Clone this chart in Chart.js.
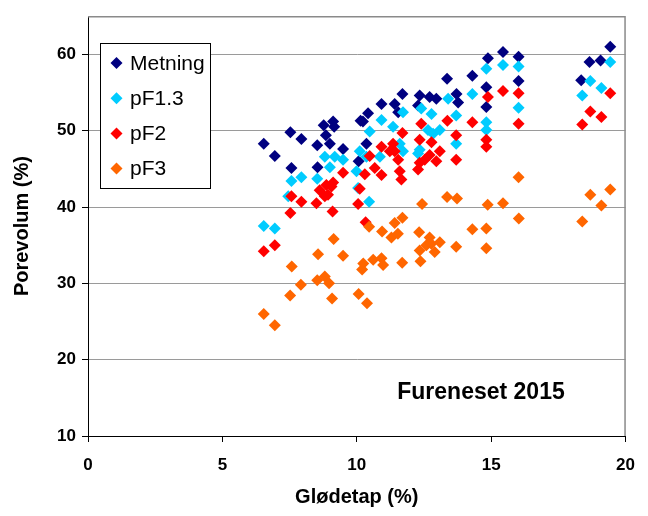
<!DOCTYPE html>
<html>
<head>
<meta charset="utf-8">
<script src="https://cdn.jsdelivr.net/npm/chart.js@4/dist/chart.umd.min.js"></script>
<style>
  html, body { margin: 0; padding: 0; background: #ffffff; }
  canvas { display: block; }
</style>
</head>
<body>
<canvas id="chart" width="648" height="516"></canvas>
<script>
// Loss on ignition (Glødetap, %) against pore volume (%) for four water states
const seriesNames = ['Metning', 'pF1.3', 'pF2', 'pF3'];
const seriesColors = ['#000080', '#00CCFF', '#FF0000', '#FF6600'];

const metningX = [6.54, 6.95, 7.53, 7.57, 7.94, 8.53, 8.54, 8.77, 8.85, 9.0, 9.12, 9.16, 9.49, 10.07, 10.14, 10.23, 10.36, 10.42, 10.92, 11.41, 11.54, 11.7, 12.28, 12.34, 12.71, 12.96, 13.36, 13.71, 13.77, 14.3, 14.82, 14.82, 14.88, 15.44, 16.02, 16.02, 18.35, 18.66, 19.07, 19.43];
const metningY = [48.3, 46.7, 49.8, 45.1, 48.9, 48.1, 45.2, 50.7, 49.4, 48.3, 51.2, 50.5, 47.6, 46.0, 51.3, 51.2, 48.3, 52.3, 53.5, 53.5, 52.4, 54.8, 53.3, 54.6, 54.4, 54.2, 56.8, 54.8, 53.7, 57.2, 55.7, 53.1, 59.5, 60.3, 59.7, 56.5, 56.6, 59.0, 59.2, 61.0];

const pf13X = [6.54, 6.95, 7.45, 7.57, 7.94, 8.53, 8.81, 9.0, 9.18, 9.49, 9.99, 10.05, 10.11, 10.36, 10.46, 10.48, 10.86, 10.92, 11.35, 11.6, 11.72, 11.72, 12.28, 12.34, 12.4, 12.65, 12.78, 12.84, 13.09, 13.4, 13.7, 13.7, 14.3, 14.82, 14.82, 14.82, 15.44, 16.02, 16.02, 18.39, 18.69, 19.1, 19.43];
const pf13Y = [37.5, 37.2, 41.4, 43.4, 43.9, 43.7, 46.6, 45.2, 46.6, 46.2, 44.7, 42.5, 47.3, 46.6, 40.7, 49.9, 46.6, 51.4, 50.5, 48.3, 52.4, 47.3, 47.0, 47.5, 52.9, 50.1, 52.2, 49.6, 50.1, 54.2, 52.0, 48.3, 54.8, 58.1, 51.1, 50.1, 58.6, 58.4, 53.0, 54.6, 56.5, 55.6, 59.0];

const pf2X = [6.54, 6.95, 7.53, 7.57, 7.94, 8.5, 8.62, 8.81, 8.87, 8.93, 9.06, 9.12, 9.1, 9.49, 10.05, 10.11, 10.3, 10.33, 10.48, 10.67, 10.92, 10.92, 11.23, 11.35, 11.41, 11.54, 11.6, 11.66, 11.7, 12.28, 12.34, 12.34, 12.4, 12.53, 12.71, 12.78, 12.96, 13.09, 13.37, 13.7, 13.7, 14.3, 14.82, 14.82, 14.88, 15.44, 16.02, 16.02, 18.39, 18.69, 19.1, 19.43];
const pf2Y = [34.2, 35.0, 39.2, 41.4, 40.7, 40.5, 42.2, 41.4, 42.9, 41.6, 42.7, 43.2, 39.4, 44.5, 40.4, 42.4, 44.3, 38.0, 46.7, 45.1, 44.2, 47.9, 47.3, 48.3, 47.3, 46.2, 44.7, 43.6, 49.7, 44.9, 45.8, 48.8, 50.9, 46.2, 46.8, 48.5, 46.0, 47.3, 51.3, 49.4, 46.2, 51.1, 48.8, 47.9, 54.4, 55.2, 54.9, 50.9, 50.8, 52.5, 51.8, 54.9];

const pf3X = [6.54, 6.95, 7.52, 7.58, 7.92, 8.53, 8.56, 8.81, 8.97, 9.08, 9.14, 9.49, 10.07, 10.38, 10.2, 10.24, 10.46, 10.61, 10.92, 10.94, 10.98, 11.29, 11.41, 11.53, 11.69, 11.7, 12.32, 12.34, 12.37, 12.43, 12.59, 12.71, 12.77, 12.9, 13.09, 13.36, 13.7, 13.73, 14.3, 14.82, 14.82, 14.87, 15.44, 16.02, 16.03, 18.39, 18.69, 19.1, 19.43];
const pf3Y = [26.0, 24.5, 28.4, 32.2, 29.8, 30.4, 33.8, 30.9, 30.0, 28.0, 35.8, 33.6, 28.6, 27.4, 31.8, 32.6, 37.4, 33.1, 33.3, 36.8, 32.4, 36.0, 37.9, 36.5, 32.7, 38.6, 36.7, 34.3, 32.9, 40.4, 35.0, 36.0, 35.2, 34.1, 35.4, 41.3, 34.8, 41.1, 37.1, 37.2, 34.6, 40.3, 40.5, 43.9, 38.5, 38.1, 41.6, 40.2, 42.3];

const xTicks = [0, 5, 10, 15, 20];
const yTicks = [10, 20, 30, 40, 50, 60];
const xTitle = 'Glødetap (%)';
const yTitle = 'Porevolum (%)';
const siteLabel = 'Fureneset 2015';

const FONT = "Arial, 'Liberation Sans', sans-serif";

function toPoints(xs, ys) {
  return xs.map((x, i) => ({ x: x, y: ys[i] }));
}

const seriesData = [
  toPoints(metningX, metningY),
  toPoints(pf13X, pf13Y),
  toPoints(pf2X, pf2Y),
  toPoints(pf3X, pf3Y)
];

const datasets = seriesNames.map((name, i) => ({
  label: name,
  data: seriesData[i],
  backgroundColor: seriesColors[i],
  borderColor: seriesColors[i],
  borderWidth: 0,
  pointStyle: 'rectRot',
  pointRadius: 6,
  // later series are painted over earlier ones
  order: seriesNames.length - 1 - i
}));

// Grey frame on the top and right of the plot area, legend box and site label
const decorations = {
  id: 'decorations',
  afterDatasetsDraw(chart) {
    const { ctx, chartArea: a } = chart;
    ctx.save();
    ctx.strokeStyle = '#8a8a8a';
    ctx.lineWidth = 1.5;
    ctx.setLineDash([]);
    ctx.beginPath();
    ctx.moveTo(a.left, a.top + 0.5);
    ctx.lineTo(a.right - 0.5, a.top + 0.5);
    ctx.lineTo(a.right - 0.5, a.bottom);
    ctx.stroke();

    // legend
    const lx = 100, ly = 43, lw = 110, lh = 145;
    ctx.fillStyle = '#ffffff';
    ctx.fillRect(lx, ly, lw, lh);
    ctx.strokeStyle = '#000000';
    ctx.lineWidth = 1;
    ctx.strokeRect(lx + 0.5, ly + 0.5, lw, lh);
    ctx.font = '21px ' + FONT;
    ctx.textBaseline = 'middle';
    ctx.textAlign = 'left';
    chart.data.datasets.forEach((ds, i) => {
      const cy = 63 + i * 35.2;
      const cx = 116.5;
      const r = 6;
      ctx.fillStyle = ds.backgroundColor;
      ctx.beginPath();
      ctx.moveTo(cx - r, cy);
      ctx.lineTo(cx, cy - r);
      ctx.lineTo(cx + r, cy);
      ctx.lineTo(cx, cy + r);
      ctx.closePath();
      ctx.fill();
      ctx.fillStyle = '#000000';
      ctx.fillText(ds.label, 130, cy + 1);
    });

    ctx.font = 'bold 23px ' + FONT;
    ctx.textAlign = 'center';
    ctx.fillText(siteLabel, 481, 393);
    ctx.restore();
  }
};

new Chart(document.getElementById('chart'), {
  type: 'scatter',
  data: { datasets: datasets },
  options: {
    responsive: false,
    animation: false,
    devicePixelRatio: 1,
    layout: { padding: { top: 12, right: 22, left: 0, bottom: 0 } },
    plugins: { legend: { display: false }, tooltip: { enabled: false } },
    scales: {
      x: {
        type: 'linear',
        min: 0,
        max: 20,
        afterBuildTicks(scale) { scale.ticks = xTicks.map(v => ({ value: v })); },
        afterFit(scale) { scale.height = 80; },
        grid: {
          display: true,
          drawOnChartArea: false,
          drawTicks: true,
          tickLength: 6,
          tickColor: '#000000',
          tickWidth: 1
        },
        border: { display: true, color: '#000000', width: 1 },
        ticks: {
          color: '#000000',
          padding: 13,
          font: { family: FONT, size: 17, weight: 'bold' }
        },
        title: {
          display: true,
          text: xTitle,
          color: '#000000',
          font: { family: FONT, size: 20, weight: 'bold' },
          padding: { top: 0, bottom: 7 }
        }
      },
      y: {
        type: 'linear',
        min: 10,
        max: 65,
        afterBuildTicks(scale) { scale.ticks = yTicks.map(v => ({ value: v })); },
        afterFit(scale) { scale.width = 88; },
        grid: {
          display: true,
          drawOnChartArea: true,
          drawTicks: true,
          tickLength: 6,
          color: '#9a9a9a',
          lineWidth: 1,
          tickColor: '#000000',
          tickWidth: 1,
          tickBorderDash: [],
          borderDash: [2, 1]
        },
        border: { display: true, color: '#000000', width: 1 },
        ticks: {
          color: '#000000',
          padding: 6,
          font: { family: FONT, size: 17, weight: 'bold' }
        },
        title: {
          display: true,
          text: yTitle,
          color: '#000000',
          font: { family: FONT, size: 20, weight: 'bold' },
          padding: { top: 10, bottom: 0 }
        }
      }
    }
  },
  plugins: [decorations]
});
</script>
</body>
</html>
